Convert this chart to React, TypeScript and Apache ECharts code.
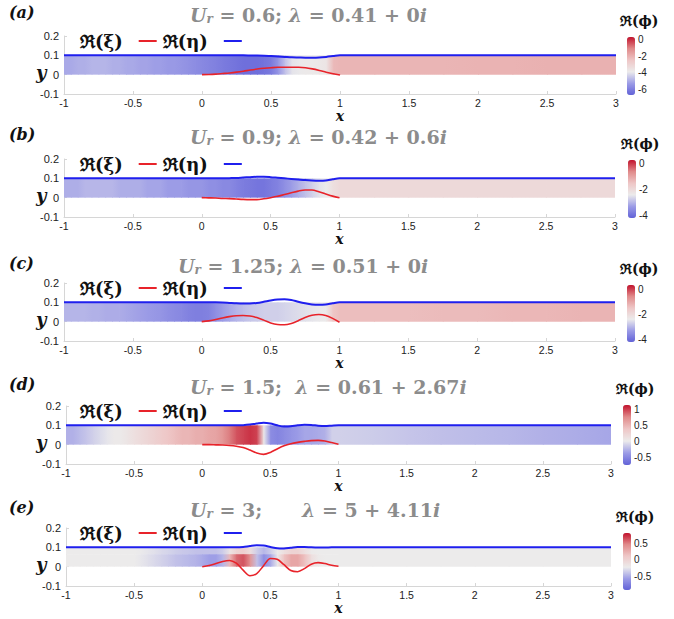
import React, { useEffect, useRef } from 'react';
import * as echarts from 'echarts';

// x positions of the Re(phi) field columns
const HX = [-1, -0.95, -0.9, -0.85, -0.8, -0.75, -0.7, -0.65, -0.6, -0.55, -0.5,
  -0.45, -0.4, -0.35, -0.3, -0.25, -0.2, -0.15, -0.1, -0.05, 0,
  0.05, 0.1, 0.15, 0.2, 0.25, 0.3, 0.35, 0.4, 0.45, 0.5,
  0.55, 0.6, 0.65, 0.7, 0.75, 0.8, 0.85, 0.9, 0.95, 1,
  1.25, 1.5, 1.75, 2, 2.25, 2.5, 2.75, 3];

// Re(phi) along the channel, per panel
const PHI_A = [-5.0, -5.0, -4.9, -4.9, -4.8, -4.8, -4.8, -4.9, -4.9, -5.0, -5.0,
  -5.1, -5.1, -5.2, -5.2, -5.3, -5.3, -5.4, -5.5, -5.6, -5.7,
  -5.8, -5.9, -6.0, -6.1, -6.2, -6.3, -6.3, -6.3, -6.2, -6.0,
  -5.4, -4.6, -4.0, -3.9, -3.8, -3.8, -3.7, -3.6, -2.2, -2.1,
  -2.1, -2.1, -2.1, -2.05, -2.05, -2.0, -2.0, -2.0];
const PHI_B = [-3.1, -3.1, -3.1, -3.0, -3.0, -3.0, -3.0, -3.0, -3.1, -3.1, -3.1,
  -3.1, -3.2, -3.2, -3.2, -3.3, -3.3, -3.3, -3.4, -3.4, -3.4,
  -3.5, -3.5, -3.6, -3.6, -3.7, -3.8, -3.85, -3.9, -3.9, -3.8,
  -3.7, -3.5, -3.3, -3.1, -2.9, -2.7, -2.5, -2.4, -2.1, -1.95,
  -1.95, -1.95, -1.95, -1.95, -1.95, -1.95, -1.95, -1.95];
const PHI_C = [-3.0, -3.0, -3.0, -3.0, -3.05, -3.05, -3.1, -3.1, -3.1, -3.15, -3.2,
  -3.25, -3.3, -3.35, -3.4, -3.5, -3.55, -3.6, -3.7, -3.75, -3.75,
  -3.7, -3.5, -3.3, -3.15, -3.0, -2.9, -2.8, -2.75, -2.7, -2.7,
  -2.7, -2.65, -2.6, -2.55, -2.5, -2.45, -2.4, -2.35, -1.5, -1.35,
  -1.35, -1.35, -1.3, -1.3, -1.25, -1.25, -1.2, -1.2];
const PHI_D = [-0.25, -0.25, -0.2, -0.15, -0.1, -0.05, 0.0, 0.05, 0.05, 0.1, 0.15,
  0.2, 0.25, 0.3, 0.35, 0.4, 0.45, 0.5, 0.5, 0.55, 0.55,
  0.6, 0.62, 0.7, 0.82, 0.95, 1.0, 1.05, 1.0, 0.05, -0.45,
  -0.5, -0.45, -0.4, -0.35, -0.3, -0.3, -0.28, -0.25, -0.1, -0.1,
  -0.12, -0.15, -0.18, -0.2, -0.22, -0.25, -0.27, -0.3];
const PHI_E_LOW = [-0.22, -0.22, -0.22, -0.22, -0.22, -0.22, -0.22, -0.22, -0.22, -0.22, -0.22,
  -0.24, -0.27, -0.3, -0.33, -0.36, -0.4, -0.42, -0.44, -0.46, -0.5,
  -0.55, -0.55, -0.45, 0.2, 0.55, 0.62, 0.4, -0.4, -0.65, -0.5,
  -0.2, 0.15, 0.3, 0.3, 0.15, -0.1, -0.2, -0.22, -0.22, -0.22,
  -0.22, -0.22, -0.22, -0.22, -0.22, -0.22, -0.22, -0.22];
const PHI_E_UP = [-0.22, -0.22, -0.22, -0.22, -0.22, -0.22, -0.22, -0.22, -0.22, -0.22, -0.22,
  -0.23, -0.25, -0.27, -0.3, -0.32, -0.35, -0.37, -0.38, -0.4, -0.4,
  -0.4, -0.4, -0.35, -0.15, 0.0, 0.05, -0.1, -0.35, -0.45, -0.35,
  -0.22, -0.1, 0.0, 0.0, -0.1, -0.2, -0.22, -0.22, -0.22, -0.22,
  -0.22, -0.22, -0.22, -0.22, -0.22, -0.22, -0.22, -0.22];

// Re(xi): plate deflection on 0 <= x <= 1
const XI_X = [0, 0.05, 0.1, 0.15, 0.2, 0.25, 0.3, 0.35, 0.4, 0.45, 0.5,
  0.55, 0.6, 0.65, 0.7, 0.75, 0.8, 0.85, 0.9, 0.95, 1];
const XI_A = [0, 0.001, 0.003, 0.006, 0.009, 0.013, 0.018, 0.024, 0.029, 0.033, 0.036,
  0.038, 0.038, 0.038, 0.038, 0.036, 0.03, 0.022, 0.013, 0.005, -0.002];
const XI_B = [0, -0.001, -0.002, -0.004, -0.005, -0.007, -0.009, -0.01, -0.01, -0.006, 0,
  0.007, 0.016, 0.025, 0.034, 0.04, 0.04, 0.031, 0.019, 0.008, 0];
const XI_C = [0, 0.004, 0.011, 0.019, 0.026, 0.031, 0.032, 0.029, 0.021, 0.008, -0.007,
  -0.015, -0.016, -0.009, 0.005, 0.021, 0.033, 0.037, 0.032, 0.017, -0.003];
const XI_D = [0, 0, -0.001, -0.002, -0.004, -0.008, -0.015, -0.028, -0.043, -0.05, -0.04,
  -0.022, -0.006, 0.005, 0.012, 0.017, 0.021, 0.022, 0.019, 0.011, 0.002];
const XI_E = [0, 0.006, 0.016, 0.027, 0.032, 0.018, -0.018, -0.047, -0.036, 0.005, 0.042,
  0.038, 0.01, -0.02, -0.026, -0.01, 0.013, 0.021, 0.016, 0.007, 0.002];

// Re(eta): upper wall position
const ETA_X = [-1, -0.5, 0, 0.05, 0.1, 0.15, 0.2, 0.25, 0.3, 0.35, 0.4, 0.45, 0.5,
  0.55, 0.6, 0.65, 0.7, 0.75, 0.8, 0.85, 0.9, 0.95, 1, 1.5, 2, 2.5, 3];
const ETA_A = [0.1, 0.1, 0.1, 0.1, 0.1, 0.1, 0.1, 0.1, 0.1, 0.0995, 0.099, 0.098, 0.096,
  0.094, 0.092, 0.09, 0.089, 0.088, 0.088, 0.089, 0.092, 0.096, 0.1, 0.1, 0.1, 0.1, 0.1];
const ETA_B = [0.1, 0.1, 0.1, 0.1, 0.1, 0.1, 0.101, 0.102, 0.104, 0.106, 0.108, 0.108, 0.106,
  0.103, 0.1, 0.097, 0.094, 0.091, 0.089, 0.088, 0.089, 0.095, 0.1, 0.1, 0.1, 0.1, 0.1];
const ETA_C = [0.1, 0.1, 0.1, 0.1, 0.1, 0.099, 0.097, 0.095, 0.094, 0.094, 0.097, 0.103, 0.11,
  0.115, 0.116, 0.112, 0.103, 0.095, 0.089, 0.087, 0.089, 0.095, 0.1, 0.1, 0.1, 0.1, 0.1];
const ETA_D = [0.1, 0.1, 0.1, 0.1, 0.1, 0.1, 0.1, 0.1, 0.101, 0.104, 0.109, 0.113, 0.109,
  0.1, 0.094, 0.095, 0.1, 0.103, 0.102, 0.098, 0.096, 0.098, 0.1, 0.1, 0.1, 0.1, 0.1];
const ETA_E = [0.1, 0.1, 0.1, 0.1, 0.1, 0.1, 0.1, 0.1, 0.102, 0.107, 0.111, 0.109, 0.102,
  0.095, 0.094, 0.098, 0.102, 0.102, 0.1, 0.099, 0.099, 0.1, 0.1, 0.1, 0.1, 0.1, 0.1];

// colour ranges and colour-bar ticks
const PHI_RANGE = [[-6.6, 0.25], [-4.2, 0.3], [-4.2, 0.35], [-0.72, 1.15], [-0.9, 0.8]];
const CB_TICKS = [[0, -2, -4, -6], [0, -2, -4], [0, -2, -4], [1, 0.5, 0, -0.5], [0.5, 0, -0.5]];

const LABELS = ['(a)', '(b)', '(c)', '(d)', '(e)'];
const UR = ['0.6; ', '0.9; ', '1.25; ', '1.5;  ', '3;      '];
const LAMBDA = ['0.41 + 0', '0.42 + 0.6', '0.51 + 0', '0.61 + 2.67', '5 + 4.11'];

const XI_ALL = [XI_A, XI_B, XI_C, XI_D, XI_E];
const ETA_ALL = [ETA_A, ETA_B, ETA_C, ETA_D, ETA_E];
const ROWS = [
  [{ y0: 0, y1: 0.1, v: PHI_A }],
  [{ y0: 0, y1: 0.1, v: PHI_B }],
  [{ y0: 0, y1: 0.1, v: PHI_C }],
  [{ y0: 0, y1: 0.1, v: PHI_D }],
  [{ y0: 0, y1: 0.065, v: PHI_E_LOW }, { y0: 0.065, y1: 0.1, v: PHI_E_UP }],
];

// layout
const GRID_TOP = [36, 159, 283, 406, 528];
const GRID_H = 58;
const GRID_LEFT = [64, 64, 64, 66, 66];
const GRID_RIGHT = [58, 59, 59, 63, 63];
const TITLE_TOP = [5, 127, 256, 377, 500];
const TITLE_LEFT = [190, 190, 178, 190, 190];
const CB_LEFT = [627, 628, 627, 623, 623];
const CB_TOP = [37, 160, 285, 405, 533];
const CB_H = [58, 58, 57, 60, 57];

const SERIF = "'DejaVu Serif', 'Liberation Serif', serif";
const NUM = "'Liberation Sans Narrow', 'Liberation Sans', Arial, sans-serif";
const CMAP = ['#6262d8', '#9c9ce6', '#ecebeb', '#eec6c6', '#e08a8a', '#c2122c'];
// legend mark: short dash preceded by an empty gap
const LEGEND_ICON = 'path://M0,1L0,1M11,0L29,0L29,2L11,2Z';

const renderCell = (params: any, api: any) => {
  const i = params.dataIndexInside;
  if (i >= params.dataInsideLength - 1) return null;
  const p0 = api.coord([api.value(0), api.value(3)]);
  const p1 = api.coord([api.value(1), api.value(2)]);
  const c0 = api.visual('color');
  const c1 = api.visual('color', i + 1);
  return {
    type: 'rect',
    shape: { x: p0[0], y: p0[1], width: p1[0] - p0[0] + 0.8, height: p1[1] - p0[1] },
    style: {
      fill: new echarts.graphic.LinearGradient(0, 0, 1, 0, [
        { offset: 0, color: c0 },
        { offset: 1, color: c1 },
      ]),
    },
  };
};

export default function App() {
  const ref = useRef<HTMLDivElement>(null);
  useEffect(() => {
    if (!ref.current) return;
    const chart = echarts.init(ref.current, undefined, { renderer: 'svg' });
    const grid: any[] = [];
    const xAxis: any[] = [];
    const yAxis: any[] = [];
    const series: any[] = [];
    const visualMap: any[] = [];
    const legend: any[] = [];
    const title: any[] = [];

    for (let k = 0; k < 5; k++) {
      grid.push({ left: GRID_LEFT[k], right: GRID_RIGHT[k], top: GRID_TOP[k], height: GRID_H });
      xAxis.push({
        type: 'value', gridIndex: k, min: -1, max: 3, interval: 0.5,
        axisLine: { show: true, onZero: false, lineStyle: { color: '#d6d6d6', width: 1 } },
        axisTick: { show: true, inside: true, length: 3, lineStyle: { color: '#d6d6d6' } },
        splitLine: { show: false },
        axisLabel: { fontFamily: NUM, fontSize: 10.5, color: '#222', margin: 3, lineHeight: 11 },
        name: 'x', nameLocation: 'middle', nameGap: 16, nameMoveOverlap: false,
        nameTextStyle: { fontFamily: SERIF, fontStyle: 'italic', fontWeight: 'bold', fontSize: 14, color: '#111', lineHeight: 12, verticalAlign: 'top' },
      });
      yAxis.push({
        type: 'value', gridIndex: k, min: -0.1, max: 0.2, interval: 0.1,
        axisLine: { show: true, onZero: false, lineStyle: { color: '#d6d6d6', width: 1 } },
        axisTick: { show: true, inside: true, length: 3, lineStyle: { color: '#d6d6d6' } },
        splitLine: { show: false },
        axisLabel: { fontFamily: NUM, fontSize: 11, color: '#222', margin: 5 },
      });

      const hm: number[] = [];
      ROWS[k].forEach((row) => {
        hm.push(series.length);
        series.push({
          type: 'custom', coordinateSystem: 'cartesian2d', xAxisIndex: k, yAxisIndex: k,
          data: HX.map((x, i) => [x, i < HX.length - 1 ? HX[i + 1] : x, row.y0, row.y1, row.v[i]]),
          encode: { x: [0, 1], y: [2, 3] },
          renderItem: renderCell, silent: true, clip: true, z: 1,
        });
      });
      series.push({
        type: 'line', name: 'ℜ(η)', xAxisIndex: k, yAxisIndex: k,
        data: ETA_X.map((x, i) => [x, ETA_ALL[k][i]]),
        showSymbol: false, smooth: 0.3, z: 3, silent: true,
        lineStyle: { color: '#1f1fee', width: 2 }, itemStyle: { color: '#1f1fee' },
      });
      series.push({
        type: 'line', name: 'ℜ(ξ)', xAxisIndex: k, yAxisIndex: k,
        data: XI_X.map((x, i) => [x, XI_ALL[k][i]]),
        showSymbol: false, smooth: 0.3, z: 4, silent: true,
        lineStyle: { color: '#e8232a', width: 1.6 }, itemStyle: { color: '#e8232a' },
      });

      visualMap.push({
        type: 'continuous', seriesIndex: hm, dimension: 4,
        min: PHI_RANGE[k][0], max: PHI_RANGE[k][1],
        inRange: { color: CMAP },
        show: true, calculable: false, hoverLink: false, padding: 0,
        left: CB_LEFT[k], top: CB_TOP[k], itemWidth: 8, itemHeight: CB_H[k],
        orient: 'vertical',
      });

      legend.push({
        data: ['ℜ(ξ)', 'ℜ(η)'], left: 80, top: GRID_TOP[k] - 4, padding: 0,
        align: 'right', icon: LEGEND_ICON, itemWidth: 29, itemHeight: 4, itemGap: 6,
        selectedMode: false,
        textStyle: { fontFamily: SERIF, fontWeight: 'bold', fontSize: 18, color: '#111' },
      });

      title.push({
        text: `{it|U}{sub|r}{n| = ${UR[k]}}{it|λ}{n| = ${LAMBDA[k]}}{it|i}`,
        left: TITLE_LEFT[k], top: TITLE_TOP[k], padding: 0,
        textStyle: {
          rich: {
            it: { fontFamily: SERIF, fontStyle: 'italic', fontWeight: 'bold', fontSize: 19, color: '#8c8c8c' },
            n: { fontFamily: SERIF, fontWeight: 'bold', fontSize: 19, color: '#8c8c8c' },
            sub: { fontFamily: SERIF, fontStyle: 'italic', fontWeight: 'bold', fontSize: 12, color: '#8c8c8c', padding: [8, 0, 0, 0] },
          },
        },
      });
      title.push({
        text: LABELS[k], left: 9, top: TITLE_TOP[k] - 1, padding: 0,
        textStyle: { fontFamily: SERIF, fontStyle: 'italic', fontWeight: 'bold', fontSize: 16, color: '#111' },
      });
      title.push({
        text: 'y', left: 36, top: GRID_TOP[k] + 27, padding: 0,
        textStyle: { fontFamily: SERIF, fontStyle: 'italic', fontWeight: 'bold', fontSize: 18, color: '#111' },
      });
      title.push({
        text: 'ℜ(ϕ)', left: CB_LEFT[k] - 7, top: CB_TOP[k] - 23, padding: 0,
        textStyle: { fontFamily: SERIF, fontWeight: 'bold', fontSize: 14, color: '#111' },
      });
    }

    // colour-bar tick axes
    for (let k = 0; k < 5; k++) {
      grid.push({ left: CB_LEFT[k], top: CB_TOP[k], width: 8, height: CB_H[k] });
      xAxis.push({ type: 'value', gridIndex: 5 + k, min: 0, max: 1, show: false });
      yAxis.push({
        type: 'value', gridIndex: 5 + k, position: 'right',
        min: PHI_RANGE[k][0], max: PHI_RANGE[k][1],
        axisLine: { show: false }, axisTick: { show: false }, splitLine: { show: false },
        axisLabel: { customValues: CB_TICKS[k], fontFamily: NUM, fontSize: 10, color: '#222', margin: 3 },
      });
    }

    chart.setOption({
      animation: false,
      backgroundColor: '#ffffff',
      title, legend, grid, xAxis, yAxis, visualMap, series,
    });
    return () => chart.dispose();
  }, []);
  return <div ref={ref} style={{ position: 'fixed', left: 0, top: 0, width: 674, height: 619 }} />;
}
